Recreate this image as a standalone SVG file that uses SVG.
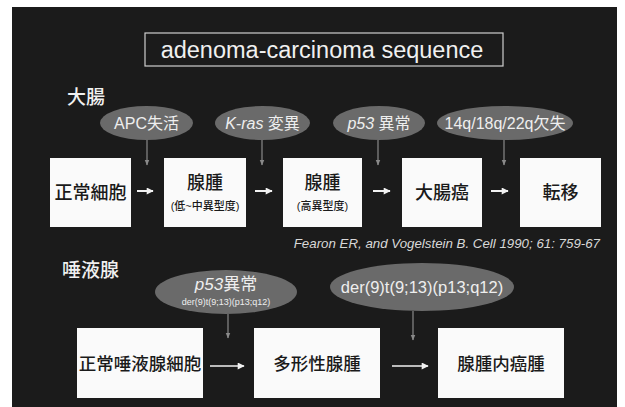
<svg xmlns="http://www.w3.org/2000/svg" width="625" height="407" viewBox="0 0 625 407">
<defs>
<marker id="ah" viewBox="0 0 10 10" refX="9" refY="5" markerWidth="6" markerHeight="6" orient="auto" markerUnits="userSpaceOnUse"><path d="M0,1 L10,5 L0,9 Z" fill="#8a8a8a"/></marker>
<marker id="aw" viewBox="0 0 10 10" refX="9" refY="5" markerWidth="8" markerHeight="7" orient="auto" markerUnits="userSpaceOnUse"><path d="M0,0 L10,5 L0,10 Z" fill="#f2f2f2"/></marker>
</defs>
<style>
.bg{fill:#1b1b1b}
.box{fill:#fafafa}
.ell{fill:#6a6a6a}
.jp{font-family:"Liberation Sans","Noto Sans CJK JP",sans-serif}
.bt{font-size:18px;font-weight:500;fill:#1a1a1a;text-anchor:middle}
.bt2{font-size:17.5px;font-weight:500;fill:#1a1a1a;text-anchor:middle}
.st{font-size:11px;font-weight:500;fill:#1a1a1a;text-anchor:middle}
.et{font-size:16px;fill:#eeeeee;text-anchor:middle}
.hd{font-size:19px;font-weight:500;fill:#f0f0f0}
.vc{stroke:#8a8a8a;stroke-width:1.2;fill:none}
.hc{stroke:#f2f2f2;stroke-width:2;fill:none}
.hc2{stroke:#f2f2f2;stroke-width:1.3;fill:none}
</style>
<rect class="bg" x="12" y="7" width="605" height="400"/>
<g id="title">
<rect x="145" y="33" width="358" height="33" fill="none" stroke="#cfcfcf" stroke-width="1.2"/>
<text x="322" y="58" font-family="Liberation Sans,sans-serif" font-size="23.5" fill="#f0f0f0" text-anchor="middle">adenoma-carcinoma sequence</text>
</g>
<g id="hdr-colon"><text class="jp hd" x="67" y="104">大腸</text></g>
<g id="hdr-salivary"><text class="jp hd" x="62" y="277">唾液腺</text></g>
<g id="e-apc"><ellipse class="ell" cx="146.5" cy="123" rx="46.5" ry="17"/><text class="jp et" x="146.5" y="129">APC失活</text></g>
<g id="e-kras"><ellipse class="ell" cx="262.5" cy="123" rx="47.5" ry="17"/><text class="jp et" x="262.5" y="129"><tspan font-style="italic">K-ras</tspan> 変異</text></g>
<g id="e-p53"><ellipse class="ell" cx="379" cy="123" rx="46" ry="17"/><text class="jp et" x="379" y="129"><tspan font-style="italic">p53</tspan> 異常</text></g>
<g id="e-14q"><ellipse class="ell" cx="505" cy="123" rx="68" ry="17"/><text class="jp et" x="505" y="129">14q/18q/22q欠失</text></g>
<g id="b1"><rect class="box" x="50" y="158" width="81" height="69"/><text class="jp bt" x="90.5" y="199">正常細胞</text></g>
<g id="b2"><rect class="box" x="164" y="158" width="82" height="69"/><text class="jp bt" x="205" y="189">腺腫</text><text class="jp st" x="205" y="210">(低~中異型度)</text></g>
<g id="b3"><rect class="box" x="283" y="158" width="79" height="69"/><text class="jp bt" x="322.5" y="189">腺腫</text><text class="jp st" x="322.5" y="210">(高異型度)</text></g>
<g id="b4"><rect class="box" x="402" y="158" width="80" height="69"/><text class="jp bt" x="442" y="199">大腸癌</text></g>
<g id="b5"><rect class="box" x="520" y="158" width="81" height="69"/><text class="jp bt" x="560.5" y="199">転移</text></g>
<g id="citation"><text x="600" y="248" font-family="Liberation Sans,sans-serif" font-size="13.3" font-style="italic" fill="#d8d8d8" text-anchor="end">Fearon ER, and Vogelstein B. Cell 1990; 61: 759-67</text></g>
<g id="e-p53s"><ellipse class="ell" cx="226" cy="292" rx="71" ry="22"/><text class="jp" x="226" y="290" font-size="17" fill="#eeeeee" text-anchor="middle"><tspan font-style="italic">p53</tspan>異常</text><text class="jp" x="226" y="305" font-size="9" fill="#eeeeee" text-anchor="middle">der(9)t(9;13)(p13;q12)</text></g>
<g id="e-der"><ellipse class="ell" cx="422" cy="287" rx="92" ry="24"/><text class="jp" x="422" y="293" font-size="16.5" fill="#eeeeee" text-anchor="middle">der(9)t(9;13)(p13;q12)</text></g>
<g id="s1"><rect class="box" x="77" y="328" width="126" height="70"/><text class="jp bt2" x="140" y="370">正常唾液腺細胞</text></g>
<g id="s2"><rect class="box" x="254" y="328" width="126" height="70"/><text class="jp bt2" x="317" y="370">多形性腺腫</text></g>
<g id="s3"><rect class="box" x="438" y="328" width="126" height="70"/><text class="jp bt2" x="501" y="370">腺腫内癌腫</text></g>
<g id="connectors">
<line class="vc" x1="147" y1="140" x2="147" y2="165" marker-end="url(#ah)"/>
<line class="vc" x1="262" y1="140" x2="262" y2="165" marker-end="url(#ah)"/>
<line class="vc" x1="378" y1="140" x2="378" y2="165" marker-end="url(#ah)"/>
<line class="vc" x1="504" y1="140" x2="504" y2="165" marker-end="url(#ah)"/>
<line class="hc" x1="137" y1="191" x2="153" y2="191" marker-end="url(#aw)"/>
<line class="hc" x1="255" y1="191" x2="272" y2="191" marker-end="url(#aw)"/>
<line class="hc" x1="373" y1="191" x2="390" y2="191" marker-end="url(#aw)"/>
<line class="hc" x1="491" y1="191" x2="508" y2="191" marker-end="url(#aw)"/>
<line class="vc" x1="228" y1="314" x2="228" y2="338" marker-end="url(#ah)"/>
<line class="vc" x1="413" y1="311" x2="413" y2="340" marker-end="url(#ah)"/>
<line class="hc2" x1="210" y1="366" x2="244" y2="366" marker-end="url(#aw)"/>
<line class="hc2" x1="392" y1="366" x2="428" y2="366" marker-end="url(#aw)"/>
</g>
</svg>
